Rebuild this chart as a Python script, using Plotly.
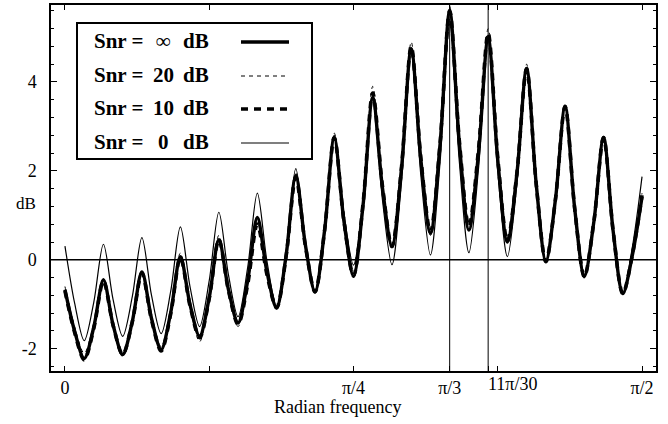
import math
import plotly.graph_objects as go

PI = math.pi

# sample positions: multiples of pi/120 (peak, rising/falling midpoint, trough ...)
quarter_steps = list(range(0, 61))
freq = [q * PI / 120 for q in quarter_steps]

snr_inf = [-0.67, -1.60, -2.22, -1.51, -0.45, -1.46, -2.13, -1.39, -0.27, -1.32,
           -2.02, -1.18, 0.07, -1.00, -1.72, -0.85, 0.45, -0.67, -1.42, -0.47,
           0.95, -0.27, -1.08, 0.11, 1.90, 0.33, -0.72, 0.67, 2.75, 0.88,
           -0.37, 1.24, 3.65, 1.64, 0.30, 2.08, 4.75, 2.26, 0.60, 2.60,
           5.60, 2.64, 0.67, 2.40, 5.00, 2.24, 0.40, 1.96, 4.30, 1.70,
           -0.04, 1.36, 3.45, 1.15, -0.38, 0.87, 2.75, 0.64, -0.76, 0.11, 1.42]
snr_20 = [-0.60, -1.50, -2.10, -1.43, -0.42, -1.48, -2.18, -1.41, -0.25, -1.27,
          -1.95, -1.11, 0.15, -1.04, -1.84, -0.88, 0.55, -0.68, -1.50, -0.56,
          0.85, -0.32, -1.10, 0.12, 1.95, 0.35, -0.72, 0.71, 2.85, 0.96,
          -0.30, 1.38, 3.90, 1.71, 0.25, 2.11, 4.90, 2.29, 0.55, 2.61,
          5.70, 2.79, 0.85, 2.59, 5.20, 2.35, 0.45, 2.03, 4.40, 1.75,
          -0.02, 1.38, 3.48, 1.18, -0.36, 0.89, 2.77, 0.66, -0.74, 0.16, 1.50]
snr_10 = [-0.70, -1.63, -2.25, -1.54, -0.48, -1.47, -2.13, -1.40, -0.30, -1.35,
          -2.05, -1.21, 0.05, -1.03, -1.75, -0.87, 0.45, -0.69, -1.45, -0.55,
          0.80, -0.33, -1.08, 0.09, 1.85, 0.31, -0.72, 0.67, 2.75, 0.88,
          -0.36, 1.28, 3.75, 1.68, 0.30, 2.10, 4.80, 2.29, 0.62, 2.61,
          5.60, 2.69, 0.75, 2.49, 5.10, 2.29, 0.42, 1.97, 4.30, 1.70,
          -0.04, 1.36, 3.45, 1.15, -0.38, 0.87, 2.75, 0.64, -0.76, 0.12, 1.45]
snr_0 = [0.31, -0.97, -1.82, -0.95, 0.35, -0.89, -1.72, -0.83, 0.50, -0.80,
         -1.66, -0.70, 0.74, -0.60, -1.50, -0.47, 1.07, -0.34, -1.28, -0.17,
         1.50, -0.03, -1.05, 0.19, 2.05, 0.40, -0.70, 0.70, 2.80, 1.05,
         -0.12, 1.37, 3.60, 1.37, -0.11, 1.77, 4.60, 1.91, 0.11, 2.19,
         5.30, 2.22, 0.16, 2.06, 4.90, 2.00, 0.07, 1.72, 4.20, 1.65,
         -0.05, 1.35, 3.45, 1.15, -0.38, 0.88, 2.77, 0.65, -0.76, 0.29, 1.87]

tick_vals = [0, PI / 8, PI / 4, 3 * PI / 8, PI / 3, 11 * PI / 30, PI / 2]
tick_text = ["0", "", "π/4", "", "π/3", "", "π/2"]
offset_label = (11 * PI / 30, "11π/30")
marker_freqs = [PI / 3, 11 * PI / 30]
y_ticks = [-2, 0, 2, 4]

legend_values = ["∞", "20", "10", "0"]

FONT = "Liberation Serif"

fig = go.Figure()
styles = [
    (snr_inf, dict(color="black", width=3.4)),
    (snr_20, dict(color="black", width=1.0, dash="4px,4px")),
    (snr_10, dict(color="black", width=3.6, dash="7px,6px")),
    (snr_0, dict(color="black", width=1.2)),
]
for ys, ln in styles:
    fig.add_trace(go.Scatter(x=freq, y=ys, mode="lines",
                             line=dict(shape="spline", smoothing=0.9, **ln),
                             showlegend=False, hoverinfo="skip"))

shapes = []
for xv in marker_freqs:
    shapes.append(dict(type="line", xref="x", yref="paper", x0=xv, x1=xv,
                       y0=0, y1=1, line=dict(color="black", width=1)))
shapes.append(dict(type="line", xref="paper", yref="y", x0=0, x1=1, y0=0, y1=0,
                   line=dict(color="black", width=1.5)))

W, H = 668, 424
ml, mr, mt, mb = 51, 12, 5, 53
pw, ph = W - ml - mr, H - mt - mb
def px(x):
    return (x - ml) / pw
def py(y):
    return 1 - (y - mt) / ph

# legend box
shapes.append(dict(type="rect", xref="paper", yref="paper",
                   x0=px(77), x1=px(312), y0=py(159), y1=py(23),
                   line=dict(color="black", width=2), fillcolor="white"))
rows_y = [41, 75, 108, 142]
sample_styles = [dict(width=3.4), dict(width=1.0, dash="4px,4px"),
                 dict(width=3.6, dash="7px,6px"), dict(width=1.2)]
annotations = []
for val, ry, st in zip(legend_values, rows_y, sample_styles):
    shapes.append(dict(type="line", xref="paper", yref="paper",
                       x0=px(241), x1=px(289), y0=py(ry + 1), y1=py(ry + 1),
                       line=dict(color="black", **st)))
    for txt, xx, anc in [("Snr =", 92, "left"), (val, 163, "center"), ("dB", 181, "left")]:
        annotations.append(dict(text="<b>%s</b>" % txt, xref="paper", yref="paper",
                                x=px(xx), y=py(ry), xanchor=anc, yanchor="middle",
                                showarrow=False, font=dict(family=FONT, size=21, color="black")))

# y axis title, offset x label and x axis title
annotations.append(dict(text="dB", xref="paper", yref="paper", x=px(26), y=py(203),
                        xanchor="center", yanchor="middle", showarrow=False,
                        font=dict(family=FONT, size=17, color="black")))
annotations.append(dict(text=offset_label[1], xref="x", yref="paper", x=offset_label[0],
                        y=py(384), xanchor="left", yanchor="middle", xshift=-2,
                        showarrow=False, font=dict(family=FONT, size=18, color="black")))
annotations.append(dict(text="Radian frequency", xref="paper", yref="paper", x=px(337),
                        y=py(407), xanchor="center", yanchor="middle", showarrow=False,
                        font=dict(family=FONT, size=18, color="black")))

fig.update_layout(
    width=W, height=H,
    margin=dict(l=ml, r=mr, t=mt, b=mb),
    paper_bgcolor="white", plot_bgcolor="white",
    font=dict(family=FONT, size=18, color="black"),
    shapes=shapes, annotations=annotations,
)
fig.update_xaxes(range=[-0.038, 0.5121 * PI], tickvals=tick_vals, ticktext=tick_text,
                 ticks="inside", ticklen=5, tickcolor="black", showgrid=False,
                 zeroline=False, showline=True, linecolor="black", linewidth=1.5,
                 mirror="ticks", automargin=False,
                 tickfont=dict(family=FONT, size=18))
fig.update_yaxes(range=[-2.5, 5.73], tickvals=y_ticks,
                 ticktext=[str(v) + "\u2002" for v in y_ticks],
                 ticks="inside", ticklen=6,
                 tickcolor="black", showgrid=False, zeroline=False, showline=True,
                 linecolor="black", linewidth=1.5, mirror="ticks", automargin=False,
                 tickfont=dict(family=FONT, size=18),
                 minor=dict(dtick=0.4, tick0=0, ticks="inside", ticklen=3, tickcolor="black"))

fig.write_html("out.html", config={"displayModeBar": False},
               post_script="document.body.style.margin='0';")
